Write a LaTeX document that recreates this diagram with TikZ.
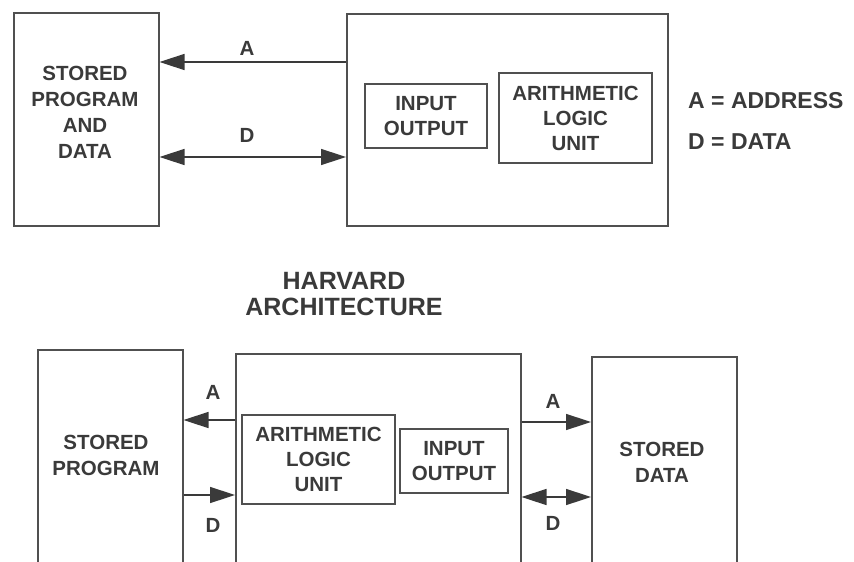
\documentclass[tikz,border=0pt]{standalone}
\usepackage{fontspec}
\setmainfont{Liberation Sans}
\usetikzlibrary{arrows.meta}
\definecolor{ink}{HTML}{3A3A3A}
\definecolor{linec}{HTML}{505050}
\tikzset{
  box/.style={draw=linec, line width=1.5pt, rectangle, anchor=north west, inner sep=0pt},
  lbl/.style={text=ink, font=\bfseries\fontsize{20.5}{26}\selectfont, align=center, inner sep=0pt},
  inlbl/.style={text=ink, font=\bfseries\fontsize{20.5}{25}\selectfont, align=center, inner sep=0pt},
  leg/.style={text=ink, font=\bfseries\fontsize{23}{28}\selectfont, anchor=west, inner sep=0pt},
  bus/.style={draw=ink, line width=1.5pt, -{Triangle[length=25pt,width=16pt]}},
  dbus/.style={draw=ink, line width=1.5pt, {Triangle[length=25pt,width=16pt]}-{Triangle[length=25pt,width=16pt]}},
}
\begin{document}
\begin{tikzpicture}[x=1pt,y=-1pt]
\useasboundingbox (0,0) rectangle (854,562);
\clip (0,0) rectangle (854,562);
% ---------- top (von Neumann) ----------
\node[box, minimum width=145pt, minimum height=213pt] (mem) at (13,12) {};
\node[lbl] (memtxt) at (85,112) {STORED\\PROGRAM\\AND\\DATA};
\node[box, minimum width=321pt, minimum height=212pt] (cpu) at (346,13) {};
\node[box, minimum width=122pt, minimum height=64pt, anchor=center, inlbl] (io) at (426,116) {INPUT\\OUTPUT};
\node[box, minimum width=153pt, minimum height=90pt, anchor=center, inlbl] (alu) at (575.5,118) {ARITHMETIC\\LOGIC\\UNIT};
\draw[bus] (cpu.west |- 0,62) -- (mem.east |- 0,62);
\draw[dbus] (mem.east |- 0,157) -- (cpu.west |- 0,157);
\node[lbl] (la) at (247,48) {A};
\node[lbl] (ld) at (247,135) {D};
\node[leg] (legA) at (688,101) {A = ADDRESS};
\node[leg] (legD) at (688,142) {D = DATA};
% ---------- title ----------
\node[text=ink, font=\bfseries\fontsize{25}{26}\selectfont, align=center, inner sep=0pt] (title) at (344,294) {HARVARD\\ARCHITECTURE};
% ---------- bottom (Harvard) ----------
\node[box, minimum width=145pt, minimum height=240pt] (pmem) at (37,349) {};
\node[lbl] (pmemtxt) at (106,455) {STORED\\PROGRAM};
\node[box, minimum width=285pt, minimum height=240pt] (hcpu) at (235,353) {};
\node[box, minimum width=153pt, minimum height=89pt, anchor=center, inlbl] (halu) at (318.5,459.5) {ARITHMETIC\\LOGIC\\UNIT};
\node[box, minimum width=108pt, minimum height=64pt, anchor=center, inlbl] (hio) at (454,461) {INPUT\\OUTPUT};
\node[box, minimum width=145pt, minimum height=240pt] (dmem) at (591,356) {};
\node[lbl] (dmemtxt) at (662,462) {STORED\\DATA};
\draw[bus] (hcpu.west |- 0,420) -- (pmem.east |- 0,420);
\draw[bus] (pmem.east |- 0,495) -- (hcpu.west |- 0,495);
\draw[bus] (hcpu.east |- 0,422) -- (dmem.west |- 0,422);
\draw[dbus] (hcpu.east |- 0,497) -- (dmem.west |- 0,497);
\node[lbl] (hla) at (213,392) {A};
\node[lbl] (hld) at (213,525) {D};
\node[lbl] (hra) at (553,401) {A};
\node[lbl] (hrd) at (553,523) {D};
\end{tikzpicture}
\end{document}
